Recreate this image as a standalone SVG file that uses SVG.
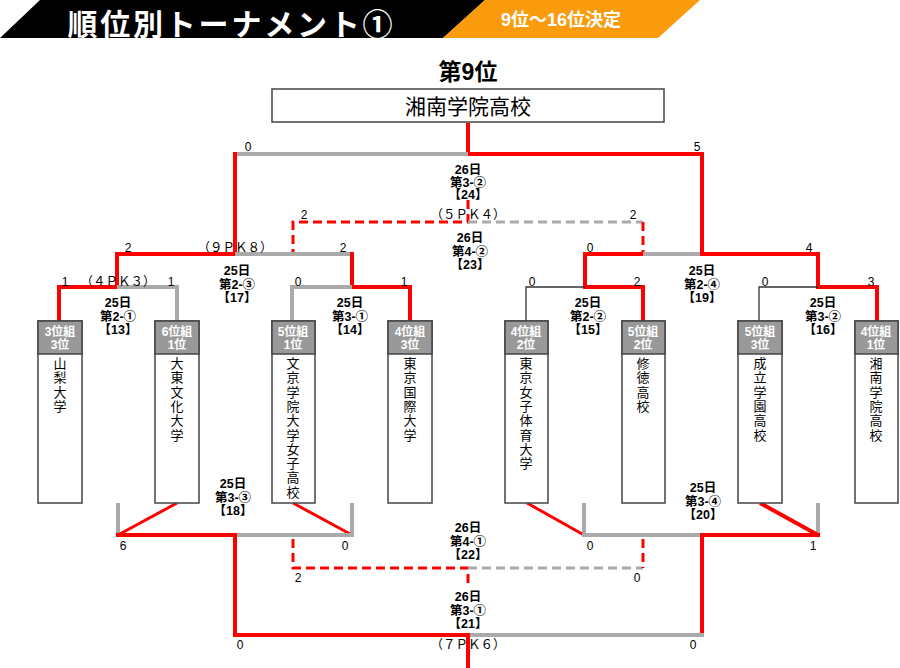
<svg xmlns="http://www.w3.org/2000/svg" width="900" height="668" viewBox="0 0 900 668">
<style>
.r{stroke:#ff0000;stroke-width:4;fill:none}
.rt{stroke:#ff0000;stroke-width:3;fill:none}
.g{stroke:#aaaaaa;stroke-width:4;fill:none}
.k{stroke:#333333;stroke-width:1.3;fill:none}
.rd{stroke:#ff0000;stroke-width:3;fill:none;stroke-dasharray:9 5}
.gd{stroke:#aaaaaa;stroke-width:3;fill:none;stroke-dasharray:9 5}
.box{fill:#ffffff;stroke:#444444;stroke-width:1.5}
.hd{fill:#999999;stroke:#444444;stroke-width:1.5}
.ht{font-family:"Liberation Sans","Noto Sans CJK JP",sans-serif;font-size:12px;font-weight:bold;fill:#ffffff;text-anchor:middle}
.nm{font-family:"Liberation Sans","Noto Sans CJK JP",sans-serif;font-size:13px;fill:#000;text-anchor:middle}
.ml{font-family:"Liberation Sans","Noto Sans CJK JP",sans-serif;font-size:12.5px;font-weight:bold;fill:#000;text-anchor:middle}
.sc{font-family:"Liberation Sans",Arial,sans-serif;font-size:12px;fill:#000;text-anchor:middle}
.pk{font-family:"Liberation Sans","Noto Sans CJK JP",sans-serif;font-size:12.5px;fill:#000;text-anchor:middle}
</style>
<g id="header">
<polygon points="40,0 485,0 443,38 0,38" fill="#000000"/>
<polygon points="485,0 700,0 658,38 443,38" fill="#f99b0c"/>
<text x="230" y="35" font-family="Liberation Sans,Noto Sans CJK JP,sans-serif" font-size="30" font-weight="bold" fill="#ffffff" text-anchor="middle" textLength="325" lengthAdjust="spacing">順位別トーナメント①</text>
<text x="561" y="26" font-family="Liberation Sans,Noto Sans CJK JP,sans-serif" font-size="18" font-weight="bold" fill="#ffffff" text-anchor="middle">9位～16位決定</text>
</g>
<g id="winner">
<text x="468" y="80" font-family="Liberation Sans,Noto Sans CJK JP,sans-serif" font-size="23" font-weight="bold" fill="#000" text-anchor="middle">第9位</text>
<rect x="272" y="89" width="392" height="33" fill="#ffffff" stroke="#444444" stroke-width="1.5"/>
<text x="468" y="114" font-family="Liberation Sans,Noto Sans CJK JP,sans-serif" font-size="21" fill="#000" text-anchor="middle">湘南学院高校</text>
</g>
<g id="connectors">
<polyline class="r" points="468,123 468,154 702,154 702,254"/>
<line class="g" x1="235" y1="154" x2="468" y2="154"/>
<line class="r" x1="235" y1="152" x2="235" y2="254"/>
<polyline class="rd" points="468,200 468,222 293,222 293,254"/>
<line class="gd" x1="468" y1="222" x2="643" y2="222"/>
<line class="rd" x1="643" y1="222" x2="643" y2="254"/>
<polyline class="r" points="117,289 117,254 237,254"/>
<line class="g" x1="235" y1="254" x2="352" y2="254"/>
<polyline class="r" points="352,252 352,287 410,287 410,321"/>
<polyline class="r" points="59,321 59,287 119,287"/>
<polyline class="g" points="117,287 177,287 177,321"/>
<polyline class="g" points="292,321 292,287 352,287"/>
<line class="r" x1="585" y1="254" x2="643" y2="254"/>
<line class="g" x1="643" y1="254" x2="702" y2="254"/>
<polyline class="r" points="700,254 818,254 818,287 877,287 877,321"/>
<polyline class="r" points="585,252 585,287 643,287 643,321"/>
<polyline class="k" points="585,287 526,287 526,321"/>
<polyline class="k" points="818,287 759,287 759,321"/>
<line class="g" x1="118" y1="503" x2="118" y2="535"/>
<line class="g" x1="352" y1="503" x2="352" y2="537"/>
<line class="rt" x1="177" y1="503" x2="118" y2="535"/>
<line class="rt" x1="293" y1="503" x2="352" y2="535"/>
<line class="g" x1="235" y1="535" x2="354" y2="535"/>
<polyline class="r" points="116,535 235,535 235,635 470,635"/>
<line class="g" x1="584" y1="503" x2="584" y2="537"/>
<line class="g" x1="818" y1="503" x2="818" y2="533"/>
<line class="rt" x1="527" y1="503" x2="584" y2="535"/>
<line class="r" x1="760" y1="503" x2="818" y2="535"/>
<line class="g" x1="582" y1="535" x2="702" y2="535"/>
<polyline class="r" points="820,535 702,535 702,637"/>
<line class="g" x1="468" y1="635" x2="704" y2="635"/>
<line class="r" x1="468" y1="633" x2="468" y2="668"/>
<polyline class="rd" points="293,539 293,568 468,568 468,586"/>
<line class="gd" x1="468" y1="568" x2="643" y2="568"/>
<line class="rd" x1="643" y1="539" x2="643" y2="568"/>
</g>
<g id="labels">
<text class="sc" x="248" y="151">0</text>
<text class="sc" x="697" y="151">5</text>
<text class="ml"><tspan x="468" y="174">26日</tspan><tspan x="468" dy="12.5">第3-②</tspan><tspan x="468" dy="12.5">【24】</tspan></text>
<text class="sc" x="304" y="219">2</text>
<text class="pk" x="468" y="219">（５ＰＫ４）</text>
<text class="sc" x="633" y="219">2</text>
<text class="ml"><tspan x="470" y="242">26日</tspan><tspan x="470" dy="13.5">第4-②</tspan><tspan x="470" dy="13.5">【23】</tspan></text>
<text class="sc" x="128" y="252">2</text>
<text class="pk" x="235" y="252">（９ＰＫ８）</text>
<text class="sc" x="343" y="252">2</text>
<text class="sc" x="590" y="252">0</text>
<text class="sc" x="809" y="252">4</text>
<text class="ml"><tspan x="237" y="275">25日</tspan><tspan x="237" dy="13.5">第2-③</tspan><tspan x="237" dy="13.5">【17】</tspan></text>
<text class="ml"><tspan x="702" y="275">25日</tspan><tspan x="702" dy="13.5">第2-④</tspan><tspan x="702" dy="13.5">【19】</tspan></text>
<text class="sc" x="65" y="286">1</text>
<text class="pk" x="118" y="286">（４ＰＫ３）</text>
<text class="sc" x="171" y="286">1</text>
<text class="sc" x="298" y="286">0</text>
<text class="sc" x="404" y="286">1</text>
<text class="sc" x="532" y="286">0</text>
<text class="sc" x="637" y="286">2</text>
<text class="sc" x="765" y="286">0</text>
<text class="sc" x="871" y="286">3</text>
<text class="ml"><tspan x="118" y="307">25日</tspan><tspan x="118" dy="13.5">第2-①</tspan><tspan x="118" dy="13.5">【13】</tspan></text>
<text class="ml"><tspan x="350" y="307">25日</tspan><tspan x="350" dy="13.5">第3-①</tspan><tspan x="350" dy="13.5">【14】</tspan></text>
<text class="ml"><tspan x="588" y="307">25日</tspan><tspan x="588" dy="13.5">第2-②</tspan><tspan x="588" dy="13.5">【15】</tspan></text>
<text class="ml"><tspan x="823" y="307">25日</tspan><tspan x="823" dy="13.5">第3-②</tspan><tspan x="823" dy="13.5">【16】</tspan></text>
<text class="ml"><tspan x="233" y="488">25日</tspan><tspan x="233" dy="13.5">第3-③</tspan><tspan x="233" dy="13.5">【18】</tspan></text>
<text class="ml"><tspan x="703" y="492">25日</tspan><tspan x="703" dy="13.5">第3-④</tspan><tspan x="703" dy="13.5">【20】</tspan></text>
<text class="sc" x="123" y="550">6</text>
<text class="sc" x="345" y="550">0</text>
<text class="sc" x="590" y="550">0</text>
<text class="sc" x="813" y="550">1</text>
<text class="ml"><tspan x="468" y="532">26日</tspan><tspan x="468" dy="13.5">第4-①</tspan><tspan x="468" dy="13.5">【22】</tspan></text>
<text class="sc" x="298" y="582">2</text>
<text class="sc" x="637" y="582">0</text>
<text class="ml"><tspan x="468" y="601">26日</tspan><tspan x="468" dy="13.5">第3-①</tspan><tspan x="468" dy="13.5">【21】</tspan></text>
<text class="sc" x="240" y="649">0</text>
<text class="pk" x="468" y="649">（７ＰＫ６）</text>
<text class="sc" x="693" y="649">0</text>
</g>
<g id="team1">
<rect class="box" x="38" y="321" width="44" height="182"/>
<rect class="hd" x="38" y="321" width="44" height="33"/>
<text class="ht"><tspan x="60" y="336">3位組</tspan><tspan x="60" dy="13">3位</tspan></text>
<text class="nm"><tspan x="60" y="368">山</tspan><tspan x="60" dy="14.3">梨</tspan><tspan x="60" dy="14.3">大</tspan><tspan x="60" dy="14.3">学</tspan></text>
</g>
<g id="team2">
<rect class="box" x="155" y="321" width="44" height="182"/>
<rect class="hd" x="155" y="321" width="44" height="33"/>
<text class="ht"><tspan x="177" y="336">6位組</tspan><tspan x="177" dy="13">1位</tspan></text>
<text class="nm"><tspan x="177" y="368">大</tspan><tspan x="177" dy="14.3">東</tspan><tspan x="177" dy="14.3">文</tspan><tspan x="177" dy="14.3">化</tspan><tspan x="177" dy="14.3">大</tspan><tspan x="177" dy="14.3">学</tspan></text>
</g>
<g id="team3">
<rect class="box" x="272" y="321" width="43" height="182"/>
<rect class="hd" x="272" y="321" width="43" height="33"/>
<text class="ht"><tspan x="293" y="336">5位組</tspan><tspan x="293" dy="13">1位</tspan></text>
<text class="nm"><tspan x="293" y="368">文</tspan><tspan x="293" dy="14.3">京</tspan><tspan x="293" dy="14.3">学</tspan><tspan x="293" dy="14.3">院</tspan><tspan x="293" dy="14.3">大</tspan><tspan x="293" dy="14.3">学</tspan><tspan x="293" dy="14.3">女</tspan><tspan x="293" dy="14.3">子</tspan><tspan x="293" dy="14.3">高</tspan><tspan x="293" dy="14.3">校</tspan></text>
</g>
<g id="team4">
<rect class="box" x="388" y="321" width="44" height="182"/>
<rect class="hd" x="388" y="321" width="44" height="33"/>
<text class="ht"><tspan x="410" y="336">4位組</tspan><tspan x="410" dy="13">3位</tspan></text>
<text class="nm"><tspan x="410" y="368">東</tspan><tspan x="410" dy="14.3">京</tspan><tspan x="410" dy="14.3">国</tspan><tspan x="410" dy="14.3">際</tspan><tspan x="410" dy="14.3">大</tspan><tspan x="410" dy="14.3">学</tspan></text>
</g>
<g id="team5">
<rect class="box" x="505" y="321" width="43" height="182"/>
<rect class="hd" x="505" y="321" width="43" height="33"/>
<text class="ht"><tspan x="526" y="336">4位組</tspan><tspan x="526" dy="13">2位</tspan></text>
<text class="nm"><tspan x="526" y="368">東</tspan><tspan x="526" dy="14.3">京</tspan><tspan x="526" dy="14.3">女</tspan><tspan x="526" dy="14.3">子</tspan><tspan x="526" dy="14.3">体</tspan><tspan x="526" dy="14.3">育</tspan><tspan x="526" dy="14.3">大</tspan><tspan x="526" dy="14.3">学</tspan></text>
</g>
<g id="team6">
<rect class="box" x="622" y="321" width="43" height="182"/>
<rect class="hd" x="622" y="321" width="43" height="33"/>
<text class="ht"><tspan x="643" y="336">5位組</tspan><tspan x="643" dy="13">2位</tspan></text>
<text class="nm"><tspan x="643" y="368">修</tspan><tspan x="643" dy="14.3">徳</tspan><tspan x="643" dy="14.3">高</tspan><tspan x="643" dy="14.3">校</tspan></text>
</g>
<g id="team7">
<rect class="box" x="738" y="321" width="44" height="182"/>
<rect class="hd" x="738" y="321" width="44" height="33"/>
<text class="ht"><tspan x="760" y="336">5位組</tspan><tspan x="760" dy="13">3位</tspan></text>
<text class="nm"><tspan x="760" y="368">成</tspan><tspan x="760" dy="14.3">立</tspan><tspan x="760" dy="14.3">学</tspan><tspan x="760" dy="14.3">園</tspan><tspan x="760" dy="14.3">高</tspan><tspan x="760" dy="14.3">校</tspan></text>
</g>
<g id="team8">
<rect class="box" x="855" y="321" width="43" height="182"/>
<rect class="hd" x="855" y="321" width="43" height="33"/>
<text class="ht"><tspan x="876" y="336">4位組</tspan><tspan x="876" dy="13">1位</tspan></text>
<text class="nm"><tspan x="876" y="368">湘</tspan><tspan x="876" dy="14.3">南</tspan><tspan x="876" dy="14.3">学</tspan><tspan x="876" dy="14.3">院</tspan><tspan x="876" dy="14.3">高</tspan><tspan x="876" dy="14.3">校</tspan></text>
</g>
</svg>
